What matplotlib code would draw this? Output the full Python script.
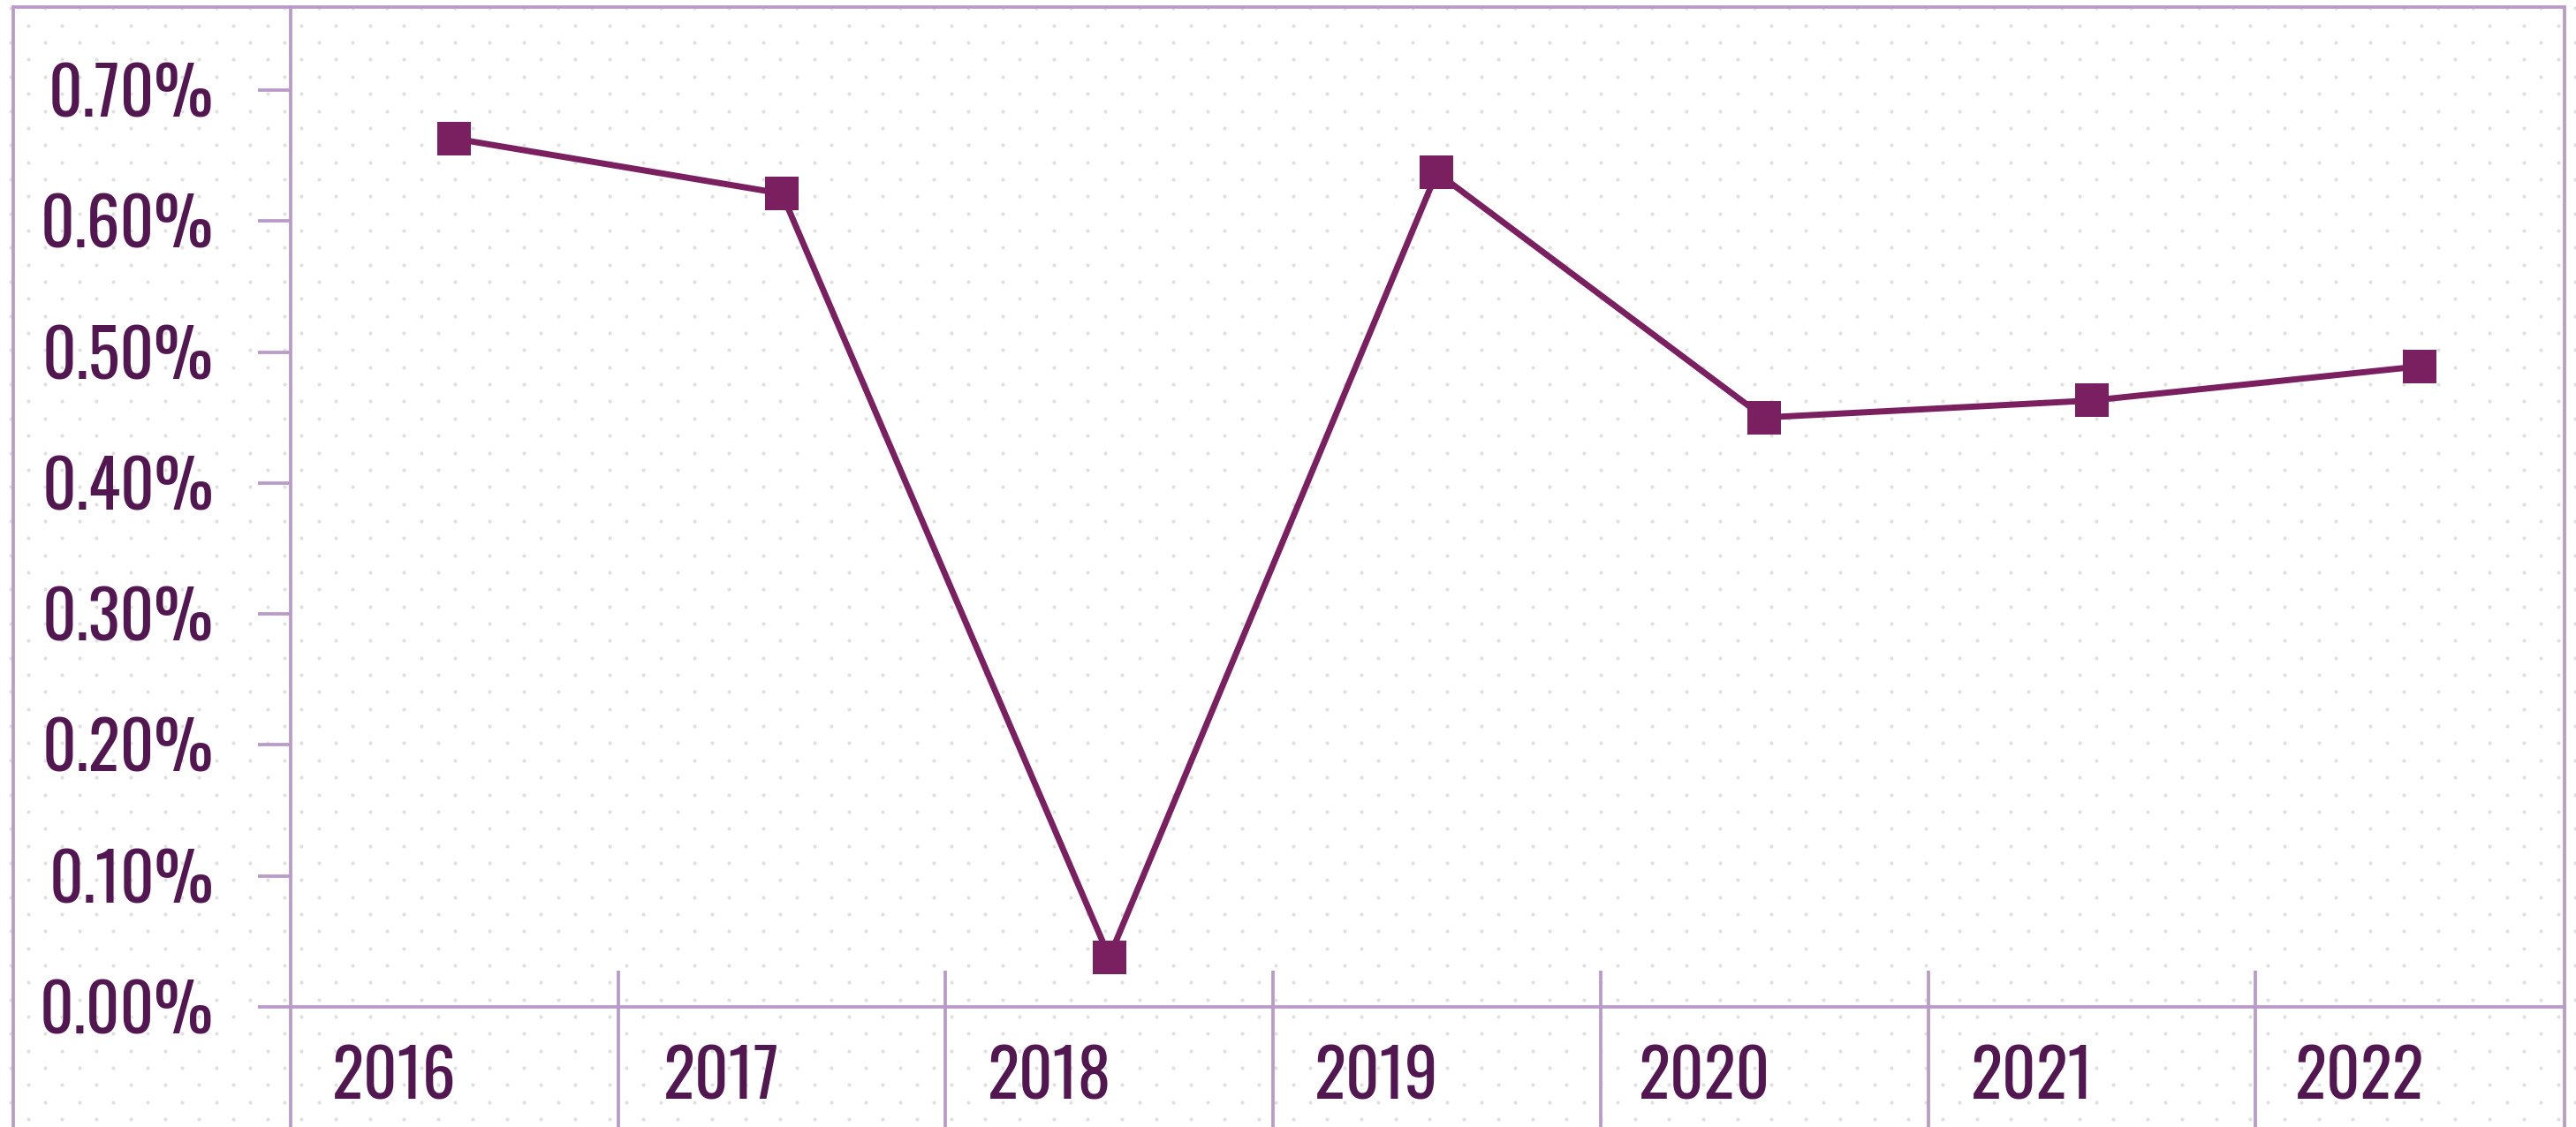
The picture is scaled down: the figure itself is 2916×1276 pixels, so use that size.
import numpy as np
import matplotlib
matplotlib.use("Agg")
import matplotlib.pyplot as plt
from matplotlib.patches import Rectangle

# data (percent)
years = ["2016", "2017", "2018", "2019", "2020", "2021", "2022"]
rates = [0.663, 0.621, 0.038, 0.637, 0.450, 0.463, 0.489]
y_ticks = [0.0, 0.1, 0.2, 0.3, 0.4, 0.5, 0.6, 0.7]

line_col = "#7a1f60"
text_col = "#521650"
frame_col = "#b99ac8"
dot_col = "#e0e0e0"

plt.rcParams["font.family"] = ["Oswald", "Antonio", "DejaVu Sans"]
plt.rcParams["font.weight"] = 200

W, H, DPI = 2916, 1276, 100
fig = plt.figure(figsize=(W / DPI, H / DPI), dpi=DPI)

# dotted paper background (staggered lattice)
bg = fig.add_axes([0, 0, 1, 1], zorder=-5)
bg.set_xlim(0, W)
bg.set_ylim(H, 0)
bg.axis("off")
step = 19.35
rows = np.arange(-1, int(H / step) + 2)
cols = np.arange(-1, int(W / step) + 2)
cx, cy = np.meshgrid(cols, rows)
keep = (cx + cy) % 2 == 0
bg.scatter(cx[keep] * step + 12.4, cy[keep] * step + 9.4, s=9, color=dot_col,
           linewidths=0)

# main axes
left, right, top = 329, 2903, 8
ax = fig.add_axes([left / W, 0, (right - left) / W, 1 - top / H])
ax.patch.set_alpha(0)

x = np.arange(len(years))
ax.plot(x, rates, color=line_col, lw=5.0, marker="s", ms=27.4,
        markeredgewidth=0, solid_joinstyle="miter", zorder=5)

px_per_unit = (1140 - 102) / 0.7
ax.set_ylim(-(H - 1140) / px_per_unit, 0.7 + (102 - top) / px_per_unit)
ax.set_xlim(-0.5, -0.5 + (right - left) / 370.7)

for s in ["top", "right"]:
    ax.spines[s].set_visible(False)
for s in ["left", "bottom"]:
    ax.spines[s].set_color(frame_col)
    ax.spines[s].set_linewidth(2.7)
ax.spines["bottom"].set_position(("data", 0))

ax.set_yticks(y_ticks)
ax.set_yticklabels([f"{v:.2f}%" for v in y_ticks])
ax.tick_params(axis="y", length=26.6, width=2.7, color=frame_col, pad=36,
               labelsize=54, labelcolor=text_col)

ax.set_xticks(x - 0.183)
ax.set_xticklabels(years)
ax.tick_params(axis="x", length=0, pad=31, labelsize=54, labelcolor=text_col)

# category separators crossing the baseline
bounds = x[:-1] + 0.5
ax.vlines(bounds, ax.get_ylim()[0], 41 / px_per_unit, color=frame_col,
          lw=2.7, zorder=2)

# outer frame
fig.add_artist(Rectangle((15 / W, -0.05), (right - 15) / W, 1 - top / H + 0.05,
                         transform=fig.transFigure, fill=False,
                         edgecolor=frame_col, lw=2.7, clip_on=False))

fig.savefig("out.png", dpi=DPI)
